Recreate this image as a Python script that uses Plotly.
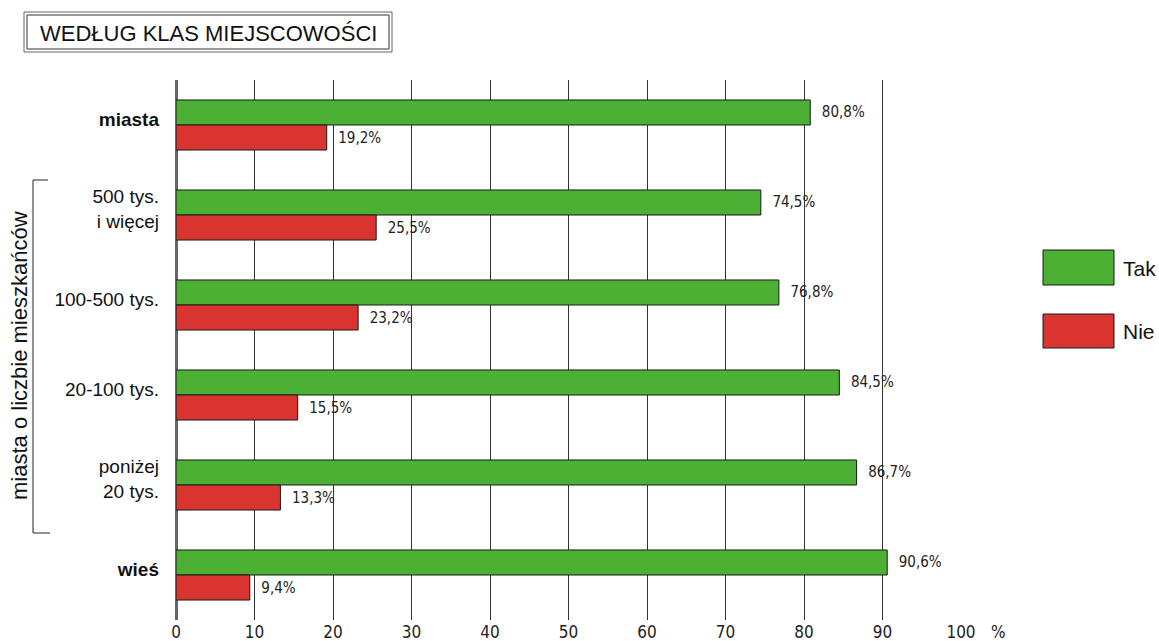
import plotly.graph_objects as go

categories = ["miasta", "500 tys. i więcej", "100-500 tys.", "20-100 tys.", "poniżej 20 tys.", "wieś"]
tick_labels = ["<b>miasta</b>", "500 tys.<br>i więcej", "100-500 tys.", "20-100 tys.", "poniżej<br>20 tys.", "<b>wieś</b>"]
tak = [80.8, 74.5, 76.8, 84.5, 86.7, 90.6]
nie = [19.2, 25.5, 23.2, 15.5, 13.3, 9.4]
x_ticks = [0, 10, 20, 30, 40, 50, 60, 70, 80, 90, 100]

W, H = 1159, 641
L, R, T, B = 176, 961, 80, 620

GREEN = "#4cb034"
RED = "#d9342f"
NARROW = "Liberation Sans Narrow, DejaVu Sans Condensed, Arial Narrow, Liberation Sans, Arial"
SANS = "Liberation Sans, Arial, Helvetica, sans-serif"


def px(x):
    return (x - L) / (R - L)


def py(y):
    return (B - y) / (B - T)


fig = go.Figure()
for name, vals, col in [("Tak", tak, GREEN), ("Nie", nie, RED)]:
    fig.add_trace(go.Bar(
        name=name, y=categories, x=vals, orientation="h",
        marker=dict(color=col, line=dict(color="#1a1a1a", width=1)),
        texttemplate="\u00a0\u00a0%{x:.1f}%", textposition="outside",
        textfont=dict(family=NARROW, size=15, color="#222"),
        cliponaxis=False, showlegend=False, hoverinfo="skip",
    ))

shapes = []
shapes.append(dict(type="rect", xref="paper", yref="paper",
                   x0=px(24), x1=px(392), y0=py(12), y1=py(52),
                   line=dict(color="#666", width=1)))
shapes.append(dict(type="rect", xref="paper", yref="paper",
                   x0=px(27), x1=px(389), y0=py(15), y1=py(49),
                   line=dict(color="#333", width=1)))
shapes.append(dict(type="path", xref="paper", yref="paper",
                   path=f"M {px(48)},{py(180)} L {px(33)},{py(180)} L {px(33)},{py(533)} L {px(50)},{py(533)}",
                   line=dict(color="#222", width=1)))
shapes.append(dict(type="rect", xref="paper", yref="paper",
                   x0=px(1043), x1=px(1114), y0=py(250), y1=py(285),
                   fillcolor=GREEN, line=dict(color="#1a1a1a", width=1)))
shapes.append(dict(type="rect", xref="paper", yref="paper",
                   x0=px(1043), x1=px(1114), y0=py(314), y1=py(348),
                   fillcolor=RED, line=dict(color="#1a1a1a", width=1)))

annotations = [
    dict(text="WEDŁUG KLAS MIEJSCOWOŚCI", xref="paper", yref="paper",
         x=px(38), y=py(33), xanchor="left", yanchor="middle", showarrow=False,
         font=dict(family=SANS, size=22, color="#111")),
    dict(text="miasta o liczbie mieszkańców", xref="paper", yref="paper",
         x=px(19), y=py(356), xanchor="center", yanchor="middle", textangle=-90,
         showarrow=False, font=dict(family=SANS, size=22, color="#111")),
    dict(text="Tak", xref="paper", yref="paper", x=px(1121), y=py(268),
         xanchor="left", yanchor="middle", showarrow=False,
         font=dict(family=SANS, size=21, color="#111")),
    dict(text="Nie", xref="paper", yref="paper", x=px(1121), y=py(331),
         xanchor="left", yanchor="middle", showarrow=False,
         font=dict(family=SANS, size=21, color="#111")),
    dict(text="%", xref="paper", yref="paper", x=px(998), y=py(632),
         xanchor="center", yanchor="middle", showarrow=False,
         font=dict(family=NARROW, size=17, color="#222")),
]

fig.update_layout(
    width=W, height=H,
    margin=dict(l=L, r=W - R, t=T, b=H - B, autoexpand=False),
    paper_bgcolor="white", plot_bgcolor="white",
    barmode="group", bargap=0.444, bargroupgap=0.0,
    separators=", ",
    shapes=shapes, annotations=annotations,
    xaxis=dict(range=[0, 100], tickvals=x_ticks, showgrid=True,
               gridcolor="#333", gridwidth=1, zeroline=True, zerolinecolor="#666",
               zerolinewidth=2.5, showline=False, ticks="",
               tickfont=dict(family=NARROW, size=17, color="#222"),
               automargin=False),
    yaxis=dict(autorange="reversed", tickvals=categories, ticktext=tick_labels,
               showgrid=False, zeroline=False, showline=False, ticks="",
               ticklabelstandoff=16, ticklabelshift=6,
               tickfont=dict(family=SANS, size=19, color="#111"),
               automargin=False),
)

fig.write_html("out.html", config={"displayModeBar": False},
               post_script="document.body.style.margin='0';")
